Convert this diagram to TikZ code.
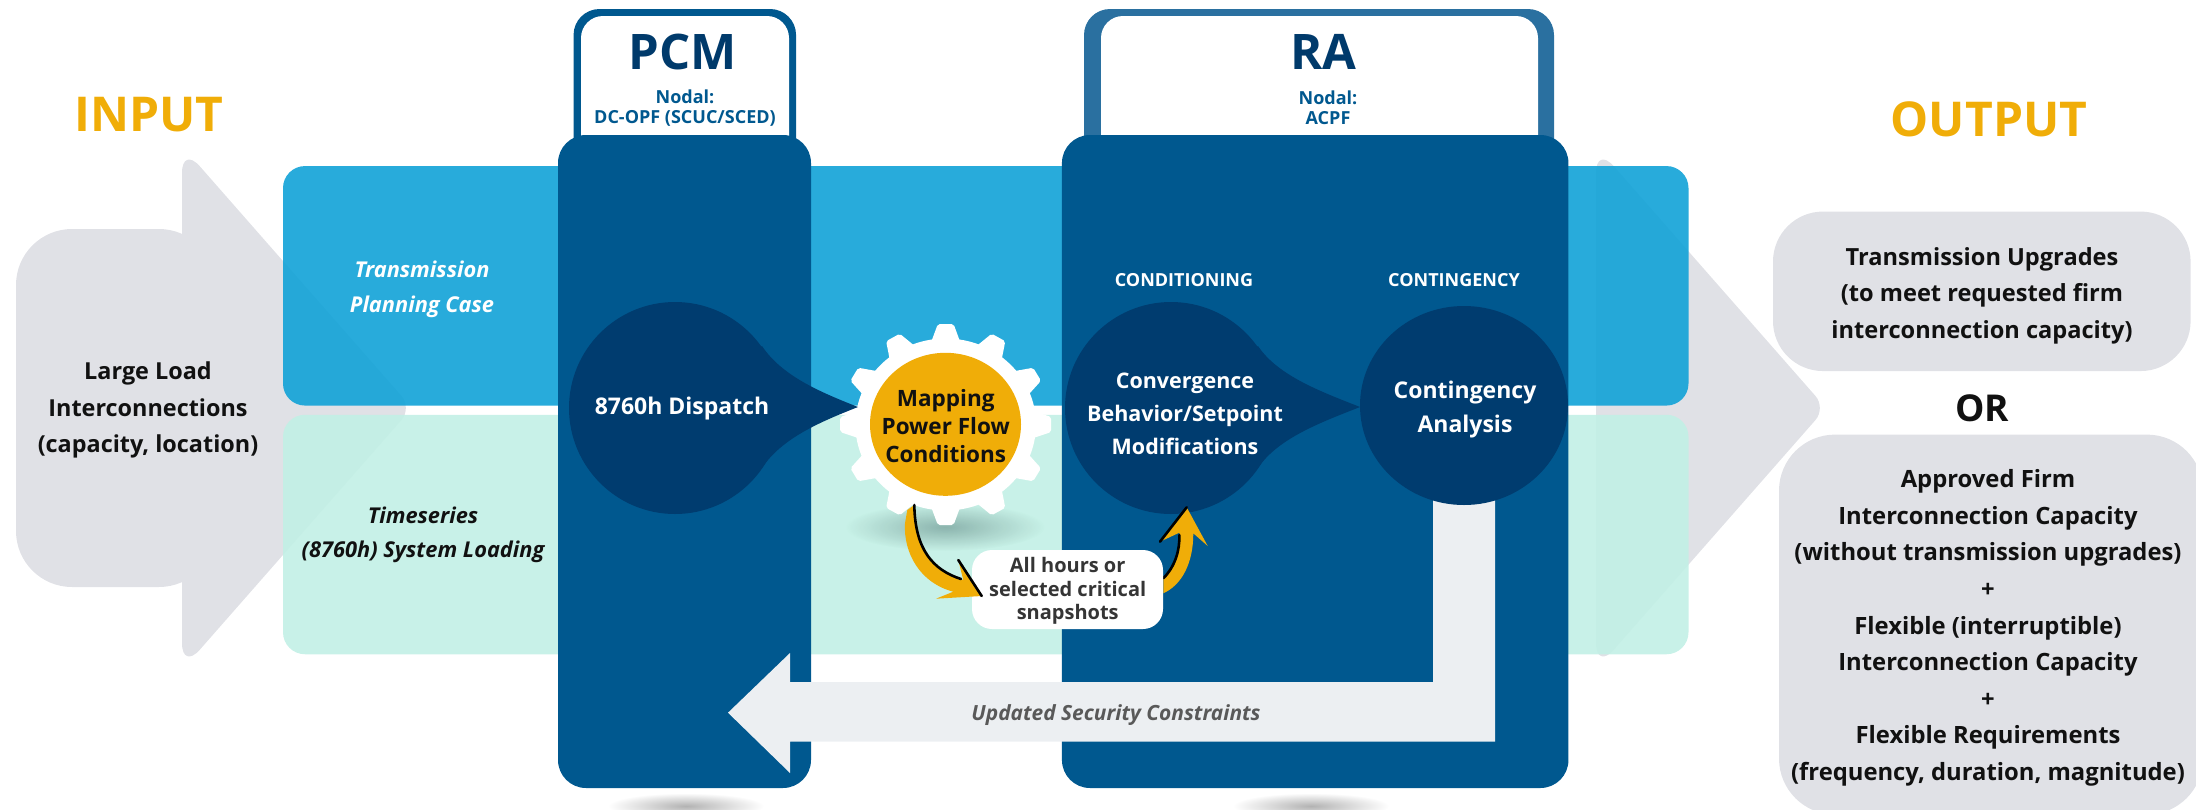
\documentclass[tikz,border=0pt]{standalone}
\usepackage{fontspec}
\setmainfont{Open Sans}
\usetikzlibrary{shapes.geometric,fadings}
\definecolor{GREYC}{HTML}{E0E1E6}
\definecolor{SKYC}{HTML}{11A2D7}
\definecolor{MINTC}{HTML}{C2F0E5}
\definecolor{COLC}{HTML}{00588F}
\definecolor{RATABC}{HTML}{2A70A0}
\definecolor{DROPC}{HTML}{003C6F}
\definecolor{NAVYC}{HTML}{003A6B}
\definecolor{GOLDC}{HTML}{F0AD08}
\definecolor{PALEC}{HTML}{ECEFF2}
\definecolor{INKC}{HTML}{111111}
\tikzfading[name=SOFTFADE, inner color=transparent!70, outer color=transparent!100]
\begin{document}
\begin{tikzpicture}
[
 x=1pt, y=-1pt,
 inner sep=0pt,
 BAND/.style={rectangle, rounded corners=22pt, opacity=0.9, minimum width=1405.5pt, minimum height=239.5pt},
 GREYBOX/.style={rectangle, rounded corners=56pt, fill=GREYC},
 COLUMN/.style={rectangle, rounded corners=28pt, fill=COLC, minimum height=653pt},
 TABIN/.style={rectangle, rounded corners=22pt, fill=white, minimum height=160pt},
 TABOUT/.style={rectangle, rounded corners=26pt, minimum height=170pt},
 DROP/.style={ellipse, fill=DROPC},
 HEAD/.style={font={\fontsize{48}{50}\bfseries\selectfont}, text=GOLDC},
 TITLE/.style={font={\fontsize{49}{50}\bfseries\selectfont}, text=NAVYC},
 NODAL/.style={font={\fontsize{18}{20}\bfseries\selectfont}, text=COLC, align=center},
 STAGE/.style={font={\fontsize{18}{20}\bfseries\selectfont}, text=white},
 CASE/.style={font={\fontsize{21.8}{34.5}\bfseries\itshape\selectfont}, align=center},
 BODY/.style={font={\fontsize{23.4}{36.6}\bfseries\selectfont}, text=INKC, align=center},
 SHADOW/.style={fill=black, path fading=SOFTFADE},
 SWOOSH/.style={line width=2.6pt, black, line cap=round},
]
\useasboundingbox (0,0) rectangle (2196,809);
%
% grey arrows behind the bands
\foreach \ax in {182,1596}
   {
     \fill [GREYC] (\ax,408) [rounded corners=27pt] -- (\ax,146) [rounded corners=16pt] -- ({\ax+230},408)
           [rounded corners=27pt] -- (\ax,670) [sharp corners] -- cycle;
   }
\node [GREYBOX, minimum width=199pt, minimum height=358pt] (LOADBOX) at (115.5,408) {};
%
\node [BAND, fill=SKYC]   (SKYBAND)   at (985.75,285.8) {};
\node [BAND, fill=MINTC]  (MINTBAND)  at (985.75,534.5) {};
%
% bottom shadows
\fill [SHADOW] (686,806) ellipse (78 and 13);
\fill [SHADOW] (1311,806) ellipse (78 and 13);
%
% tabs and columns
\node [TABOUT, fill=COLC, minimum width=222.5pt]    (PCMOUT) at (684.8,94)  {};
\node [TABIN, minimum width=208pt]                  (PCMIN)  at (685,96)    {};
\node [TABOUT, fill=RATABC, minimum width=470pt]    (RAOUT)  at (1319,94)   {};
\node [TABIN, minimum width=437pt]                  (RAIN)   at (1319.5,96) {};
\node [COLUMN, minimum width=253pt]                 (PCMCOL) at (684.5,461.5) {};
\node [COLUMN, minimum width=506.5pt]               (RACOL)  at (1315.2,461.5) {};
%
% return arrow
\fill [PALEC] (1433,480) -- (1433,682) -- (790,682) -- (790,653) -- (728,712.7)
      -- (790,773) -- (790,741.7) -- (1495,741.7) -- (1495,480) -- cycle;
%
% gear
\fill [SHADOW, fill=black!70!teal] (945,527) ellipse (100 and 24);
\begin{scope}[shift={(945.7,424.5)}, xscale=1.05]
\fill [white] (0,0) circle (86);
\foreach \a in {0,30,...,330}
   {
     \fill [white, rotate=\a, rounded corners=2pt] (-14,-82) -- (-7.5,-100.5) -- (7.5,-100.5) -- (14,-82) -- cycle;
   }
\end{scope}
\node [ellipse, fill=GOLDC, minimum width=151pt, minimum height=143pt] (GEAR) at (945.5,424.3) {};
%
% drop tails
\foreach \cx/\tx in {675/858,1171/1360}
   {
     \fill [DROPC] (\cx,407) -- ({\cx+87},346) .. controls ({\cx+107},376) and ({\tx-38},392) .. (\tx,407)
           .. controls ({\tx-38},422) and ({\cx+107},438) .. ({\cx+87},468) -- cycle;
   }
\node [DROP, minimum width=212pt, minimum height=212pt] (DISPATCH) at (675,408) {};
\node [DROP, minimum width=212pt, minimum height=212pt] (CONVDROP) at (1171,408) {};
\node [DROP, minimum width=208pt, minimum height=199pt] (CONTDROP) at (1464,405.5) {};
%
% curved arrows
\coordinate (DOWNFROM) at (914.3,505);
\coordinate (DOWNTIP)  at (981.7,596);
\coordinate (UPFROM)   at (1163.3,578.3);
\coordinate (UPTIP)    at (1186.7,507.3);
\fill [GOLDC] (UPFROM) .. controls (1175,566.7) and (1180,550) .. (1179.3,532.7) -- (1160,541.7) -- (UPTIP)
      -- (1207.7,546) -- (1193.3,533.3) .. controls (1193.3,563.3) and (1181.7,585) .. (1163.3,593.3) -- cycle;
\draw [SWOOSH] (UPFROM) .. controls (1175,566.7) and (1180,550) .. (1179.3,535);
\draw [SWOOSH] (1160,541.7) -- (UPTIP);
%
\node [rectangle, rounded corners=20pt, fill=white, minimum width=191pt, minimum height=79pt, align=center,
       text=INKC!85, font={\fontsize{20}{23.5}\bfseries\selectfont}] (SNAPBOX) at (1067.5,589.5) {};
\node [align=center, text=INKC!85, font={\fontsize{20}{23.5}\bfseries\selectfont}] (SNAPLAB) at (1067.7,591)
       {All hours or\\selected critical\\snapshots};
%
\fill [GOLDC] (DOWNFROM) .. controls (915,550) and (933.3,570) .. (963.3,580) -- (958.3,560) -- (DOWNTIP)
      -- (936,598.7) -- (953.3,591.7) .. controls (920,583) and (903.3,553) .. (905,523.3) -- (907.3,510) -- cycle;
\draw [SWOOSH] (DOWNFROM) .. controls (915,550) and (933.3,570) .. (961,579);
\draw [SWOOSH] (958.3,560) -- (DOWNTIP);
%
% output boxes
\node [GREYBOX, rounded corners=50pt, minimum width=417.6pt, minimum height=159.5pt] (UPGRADEBOX) at (1981.8,291.3) {};
\node [GREYBOX, minimum width=424pt, minimum height=380pt] (FIRMBOX) at (1991,624.6) {};
%
% labels
\node [HEAD] (INPUTLAB)  at (149,114.7)  {INPUT};
\node [HEAD] (OUTPUTLAB) at (1989,119.5) {OUTPUT};
\node [TITLE] (PCMLAB) at (683,52)    {PCM};
\node [TITLE] (RALAB)  at (1323.5,52) {RA};
\node [NODAL] (PCMNODAL) at (685,108)  {Nodal:\\DC-OPF (SCUC/SCED)};
\node [NODAL] (RANODAL)  at (1328,108) {Nodal:\\ACPF};
\node [STAGE] (CONDLAB) at (1184,280) {CONDITIONING};
\node [STAGE] (CONTLAB) at (1454,280) {CONTINGENCY};
\node [CASE, text=white] (SKYLAB)  at (422,289.5)   {Transmission\\Planning Case};
\node [CASE, text=INKC]  (MINTLAB) at (423,535) {Timeseries\\(8760h) System Loading};
\node [BODY, text=white, font={\fontsize{23}{33}\bfseries\selectfont}] (DISPLAB) at (682,409) {8760h Dispatch};
\node [BODY, text=white, font={\fontsize{21.5}{33}\bfseries\selectfont}] (CONVLAB) at (1185,414) {Convergence\\Behavior/Setpoint\\Modifications};
\node [BODY, text=white, font={\fontsize{23}{34}\bfseries\selectfont}]   (ANALYLAB) at (1465,410) {Contingency\\Analysis};
\node [BODY, font={\fontsize{22.5}{28.3}\bfseries\selectfont}] (GEARLAB) at (945.7,426) {Mapping\\Power Flow\\Conditions};
\node [BODY] (LOADLAB) at (148,410) {Large Load\\Interconnections\\(capacity, location)};
\node [BODY, font={\fontsize{23.6}{36.6}\bfseries\selectfont}] (UPGRADELAB) at (1982,295.5) {Transmission Upgrades\\(to meet requested firm\\interconnection capacity)};
\node [BODY, font={\fontsize{37}{38}\bfseries\selectfont}] (ORLAB) at (1982,408.7) {OR};
\node [BODY, font={\fontsize{23.8}{36.6}\bfseries\selectfont}] (FIRMLAB) at (1988,628)
      {Approved Firm\\Interconnection Capacity\\(without transmission upgrades)\\+\\Flexible (interruptible)\\Interconnection Capacity\\+\\Flexible Requirements\\(frequency, duration, magnitude)};
\node [font={\fontsize{20.9}{22}\bfseries\itshape\selectfont}, text=black!65] (SECLAB) at (1116,715) {Updated Security Constraints};
%
\end{tikzpicture}
\end{document}
